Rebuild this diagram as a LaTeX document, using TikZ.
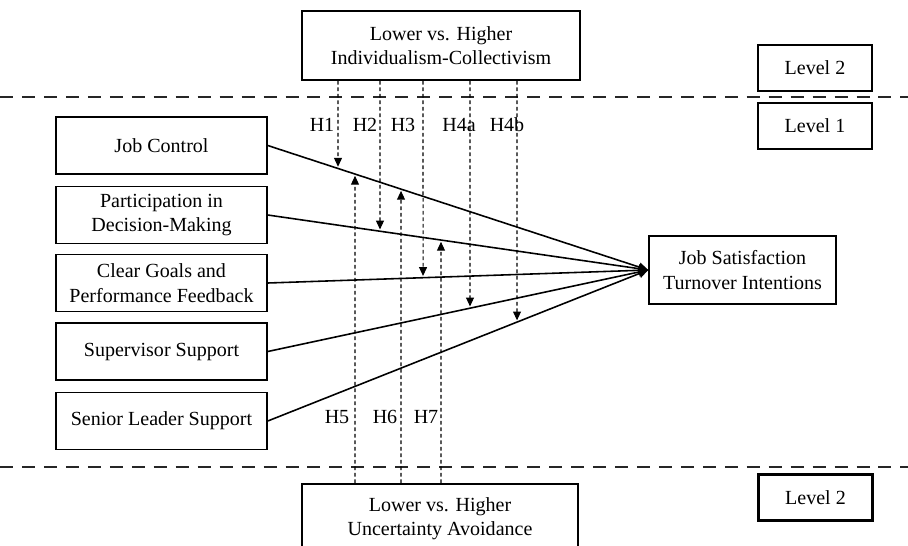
\documentclass[tikz,border=0pt]{standalone}
\usepackage{fontspec}
\setmainfont{Liberation Serif}
\usetikzlibrary{arrows.meta}
\tikzset{
	box/.style={draw,line width=0.9pt,align=center,inner sep=2pt,minimum width=4.22cm,minimum height=1.14cm,font=\fontsize{11.4}{14}\selectfont},
	lvl/.style={draw,line width=1.3pt,minimum width=2.28cm,minimum height=0.92cm,font=\fontsize{11.4}{14}\selectfont},
	levelline/.style={line width=1.6pt,dash pattern=on 7.4pt off 5.1pt,black!85},
	path/.style={line width=0.9pt,-{Triangle[length=5.5pt,width=5pt]}},
	mod/.style={line width=0.6pt,dash pattern=on 2.2pt off 1.5pt,-{Triangle[length=5pt,width=4.5pt]},shorten >=1pt},
	hlab/.style={font=\fontsize{11.4}{14}\selectfont}
}
\begin{document}
\begin{tikzpicture}[x=0.02cm,y=-0.02cm]
	\clip (0,0) rectangle (908,545);
	\draw[levelline] (0,97) -- (908,97);
	\draw[levelline] (0,467) -- (908,467);
	\node[box,minimum width=5.56cm,minimum height=1.38cm] (ic) at (441,45.5) {Lower vs. Higher\\Individualism-Collectivism};
	\node[box,minimum width=5.52cm,minimum height=1.38cm] (ua) at (440,518.5) {Lower vs. Higher\\Uncertainty Avoidance};
	\node[lvl] (l2a) at (815,68) {Level 2};
	\node[lvl] (l1) at (815,126) {Level 1};
	\node[lvl] (l2b) at (815.5,497.5) {Level 2};
	\node[box] (jc) at (161.5,145.5) {Job Control};
	\node[box] (pd) at (161.5,215) {Participation in\\Decision-Making};
	\node[box] (cg) at (161.5,283) {Clear Goals and\\Performance Feedback};
	\node[box] (ss) at (161.5,351.5) {Supervisor Support};
	\node[box] (sl) at (161.5,421) {Senior Leader Support};
	\node[box,minimum width=3.74cm,minimum height=1.36cm] (out) at (742.5,270) {Job Satisfaction\\Turnover Intentions};
	\foreach \src in {jc,pd,cg,ss,sl}
		\draw[path] (\src.east) -- (out.west);
	\foreach \x/\src/\lab/\lx in {338/jc/H1/322,380/pd/H2/365,423/cg/H3/403,470/ss/H4a/459,517/sl/H4b/507}{
		\draw[mod] (\x,0 |- ic.south) -- (intersection of \x,0--\x,1 and \src.east--out.west);
		\node[hlab] (\lab) at (\lx,125) {\lab};
	}
	\foreach \x/\src/\lab/\lx in {355/jc/H5/337,401/jc/H6/385,441/pd/H7/426}{
		\draw[mod] (\x,0 |- ua.north) -- (intersection of \x,0--\x,1 and \src.east--out.west);
		\node[hlab] (\lab) at (\lx,417) {\lab};
	}
\end{tikzpicture}
\end{document}
